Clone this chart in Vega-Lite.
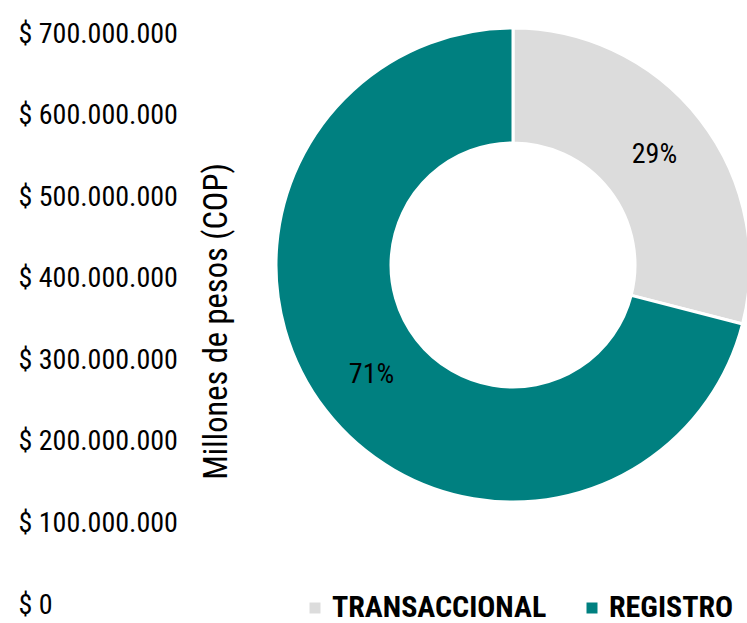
{
  "$schema": "https://vega.github.io/schema/vega-lite/v6.json",
  "width": 468,
  "height": 571,
  "autosize": "none",
  "padding": {"left": 279, "top": 34, "right": 0, "bottom": 18},
  "background": "white",
  "config": {
    "view": {"stroke": null},
    "font": "Roboto Condensed",
    "locale": {"number": {"decimal": ",", "thousands": ".", "grouping": [3], "currency": ["$ ", ""]}}
  },
  "data": {"values": [
    {"categoria": "TRANSACCIONAL", "porcentaje": 0.29, "orden": 1},
    {"categoria": "REGISTRO", "porcentaje": 0.71, "orden": 2}
  ]},
  "layer": [
    {
      "mark": {"type": "point", "opacity": 0},
      "encoding": {
        "y": {
          "datum": 0,
          "type": "quantitative",
          "scale": {"domain": [0, 700000000], "nice": false},
          "axis": {
            "title": "Millones de pesos (COP)",
            "values": [0, 100000000, 200000000, 300000000, 400000000, 500000000, 600000000, 700000000],
            "format": "$,.0f",
            "domain": false,
            "ticks": false,
            "grid": false,
            "labelAlign": "left",
            "labelBaseline": "middle",
            "labelPadding": 261,
            "labelFontSize": 28,
            "labelColor": "#000000",
            "labelFont": "Roboto Condensed",
            "labelOverlap": false,
            "labelLimit": 300,
            "titleFont": "Roboto Condensed",
            "titleFontSize": 32.5,
            "titleFontWeight": "normal",
            "titleColor": "#000000",
            "titleAngle": 270,
            "titleX": -63,
            "titleY": 287,
            "titleAlign": "center",
            "titleBaseline": "middle",
            "titleLimit": 600
          }
        }
      }
    },
    {
      "mark": {"type": "arc", "innerRadius": 122, "outerRadius": 237, "stroke": "white", "strokeWidth": 3, "yOffset": -54.5},
      "encoding": {
        "theta": {"field": "porcentaje", "type": "quantitative", "stack": true},
        "order": {"field": "orden", "type": "quantitative"},
        "color": {
          "field": "categoria",
          "type": "nominal",
          "scale": {"domain": ["TRANSACCIONAL", "REGISTRO"], "range": ["#DCDCDC", "#008080"]},
          "legend": {
            "title": null,
            "orient": "none",
            "legendX": 21,
            "legendY": 559,
            "direction": "horizontal",
            "labelFont": "Roboto Condensed",
            "labelFontSize": 30,
            "labelFontWeight": "bold",
            "labelColor": "#000000",
            "labelLimit": 400,
            "symbolType": "square",
            "symbolSize": 121,
            "symbolStrokeWidth": 0,
            "symbolOpacity": 1,
            "labelOffset": 2,
            "columnPadding": 30
          }
        }
      }
    },
    {
      "mark": {"type": "text", "radius": 179, "fontSize": 28, "font": "Roboto Condensed", "color": "#000000", "yOffset": -54.5},
      "encoding": {
        "theta": {"field": "porcentaje", "type": "quantitative", "stack": true},
        "order": {"field": "orden", "type": "quantitative"},
        "text": {"field": "porcentaje", "type": "quantitative", "format": ".0%"}
      }
    }
  ]
}
